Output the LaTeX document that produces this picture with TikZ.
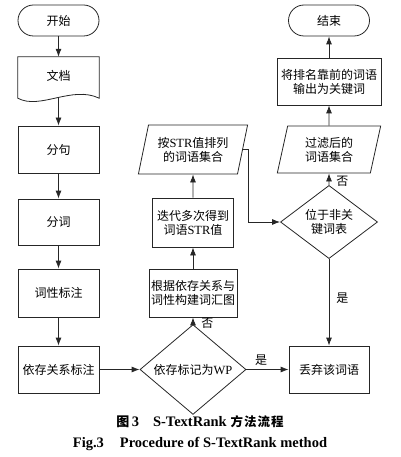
\documentclass[tikz,border=0pt]{standalone}
\usepackage{fontspec}
\setmainfont{Liberation Serif}
\newfontfamily\cjk{Noto Sans CJK SC}
\usetikzlibrary{shapes.geometric,arrows.meta}
\newcommand\lat[1]{{\rmfamily\fontsize{12.5}{14}\selectfont #1}}
\begin{document}
\begin{tikzpicture}[x=1pt,y=-1pt,
  every node/.style={font=\cjk\fontsize{12}{14}\selectfont, inner sep=1pt},
  box/.style={draw=black!85, line width=0.8pt, rectangle, minimum width=81pt, minimum height=47pt, align=center},
  term/.style={box, rounded corners=15.5pt, minimum height=31pt},
  para/.style={draw=black!85, line width=0.8pt, trapezium, trapezium stretches=true, align=center},
  dia/.style={draw=black!85, line width=0.8pt, diamond, align=center, inner sep=0pt},
  arr/.style={draw=black!85, line width=0.8pt, -{Latex[length=8pt,width=6pt]}},
  lbl/.style={font=\cjk\fontsize{12}{14}\selectfont},
  capfont/.style={font=\rmfamily\bfseries\fontsize{14.5}{17}\selectfont, anchor=base}
]
\useasboundingbox (0,0) rectangle (400,457);

\node[term] (start) at (58.5,20.5) {开始};
\node[minimum width=81pt, minimum height=41pt, inner sep=0pt] (doc) at (58.5,77.5) {};
\node (doctext) at (58.5,75.5) {文档};
\draw[draw=black!85, line width=0.8pt] (doc.south west) -- (doc.north west) -- (doc.north east) -- (doc.south east)
  .. controls ([xshift=-27pt,yshift=13pt]doc.south east) and ([xshift=22pt,yshift=-12pt]doc.south west) .. (doc.south west) -- cycle;
\node[box] (fenju) at (58.5,149.5) {分句};
\node[box, minimum height=46pt] (fenci) at (58.5,222) {分词};
\node[box, minimum height=48pt] (cixing) at (58.5,293) {词性标注};
\node[box] (yicun) at (58.5,369.5) {依存关系标注};
\node[dia, minimum width=106pt, minimum height=68pt] (wp) at (193,369.5) {依存标记为\lat{WP}};
\node[box, minimum width=80pt] (discard) at (329,369.5) {丢弃该词语};
\node[box, minimum width=88pt, minimum height=48pt] (graph) at (193,293) {根据依存关系与\\词性构建词汇图};
\node[box, minimum height=49pt] (iter) at (193,222.5) {迭代多次得到\\词语\lat{STR}值};
\node[para, trapezium left angle=73, trapezium right angle=107, minimum width=110pt, minimum height=49pt] (sorted) at (193,149.5) {按\lat{STR}值排列\\的词语集合};
\node[dia, minimum width=97pt, minimum height=64pt] (nonkw) at (329,222) {位于非关\\键词表};
\node[para, trapezium left angle=77, trapezium right angle=103, minimum width=104pt, minimum height=47pt] (filtered) at (329,149.5) {过滤后的\\词语集合};
\node[box, minimum width=104pt] (output) at (329,81.5) {将排名靠前的词语\\输出为关键词};
\node[term] (finish) at (329,20.5) {结束};

\draw[arr] (start.south) -- (doc.north);
\draw[arr] (doc.south) -- (fenju.north);
\draw[arr] (fenju.south) -- (fenci.north);
\draw[arr] (fenci.south) -- (cixing.north);
\draw[arr] (cixing.south) -- (yicun.north);
\draw[arr] (yicun.east) -- (wp.west);
\draw[arr] (wp.east) -- node[lbl, pos=0.35, above=3pt] {是} (discard.west);
\draw[arr] (wp.north) -- node[lbl, pos=0.1, right=7pt] {否} (graph.south);
\draw[arr] (graph.north) -- (iter.south);
\draw[arr] (iter.north) -- (sorted.south);
\draw[arr] (sorted.east) -- ++(5,0) |- (nonkw.west);
\draw[arr] (nonkw.south) -- node[lbl, pos=0.45, right=6pt] {是} (discard.north);
\draw[arr] (nonkw.north) -- node[lbl, pos=0.35, right=6pt] {否} (filtered.south);
\draw[arr] (filtered.north) -- (output.south);
\draw[arr] (output.north) -- (finish.south);

\node[capfont] (cap1) at (200,426) {{\cjk\bfseries\fontsize{13}{15}\selectfont 图}\,3\hspace{14pt}S-TextRank\hspace{4pt}{\cjk\bfseries\fontsize{12.5}{15}\selectfont 方\hspace{1pt}法\hspace{1pt}流\hspace{1pt}程}};
\node[capfont] (cap2) at (200,447) {Fig.3\hspace{16pt}Procedure of S-TextRank method};
\end{tikzpicture}
\end{document}
